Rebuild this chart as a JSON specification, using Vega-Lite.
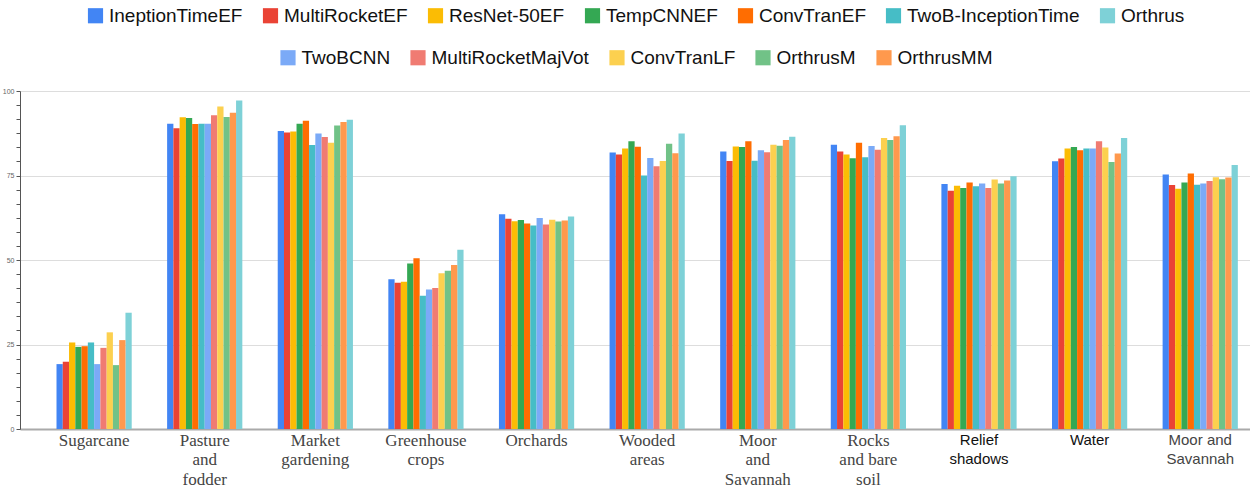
{
  "$schema": "https://vega.github.io/schema/vega-lite/v6.json",
  "width": 1230,
  "height": 338,
  "autosize": {"type": "none"},
  "padding": {"left": 20, "top": 91, "right": 0, "bottom": 59},
  "background": "white",
  "data": {
    "values": [
      {"cat": "Sugarcane", "IneptionTimeEF": 19.2, "MultiRocketEF": 19.9, "ResNet-50EF": 25.6, "TempCNNEF": 24.3, "ConvTranEF": 24.5, "TwoB-InceptionTime": 25.6, "TwoBCNN": 19.2, "MultiRocketMajVot": 24.0, "ConvTranLF": 28.6, "OrthrusM": 18.9, "OrthrusMM": 26.3, "Orthrus": 34.4},
      {"cat": "Pasture|and|fodder", "IneptionTimeEF": 90.3, "MultiRocketEF": 89.0, "ResNet-50EF": 92.2, "TempCNNEF": 92.0, "ConvTranEF": 90.2, "TwoB-InceptionTime": 90.3, "TwoBCNN": 90.3, "MultiRocketMajVot": 92.8, "ConvTranLF": 95.4, "OrthrusM": 92.3, "OrthrusMM": 93.6, "Orthrus": 97.2},
      {"cat": "Market|gardening", "IneptionTimeEF": 88.2, "MultiRocketEF": 87.7, "ResNet-50EF": 88.0, "TempCNNEF": 90.3, "ConvTranEF": 91.2, "TwoB-InceptionTime": 84.0, "TwoBCNN": 87.4, "MultiRocketMajVot": 86.4, "ConvTranLF": 84.7, "OrthrusM": 89.8, "OrthrusMM": 90.8, "Orthrus": 91.5},
      {"cat": "Greenhouse|crops", "IneptionTimeEF": 44.3, "MultiRocketEF": 43.3, "ResNet-50EF": 43.6, "TempCNNEF": 49.0, "ConvTranEF": 50.5, "TwoB-InceptionTime": 39.4, "TwoBCNN": 41.3, "MultiRocketMajVot": 41.7, "ConvTranLF": 46.1, "OrthrusM": 46.8, "OrthrusMM": 48.5, "Orthrus": 53.0},
      {"cat": "Orchards", "IneptionTimeEF": 63.5, "MultiRocketEF": 62.2, "ResNet-50EF": 61.5, "TempCNNEF": 61.8, "ConvTranEF": 60.8, "TwoB-InceptionTime": 60.2, "TwoBCNN": 62.4, "MultiRocketMajVot": 60.5, "ConvTranLF": 61.9, "OrthrusM": 61.4, "OrthrusMM": 61.7, "Orthrus": 62.9},
      {"cat": "Wooded|areas", "IneptionTimeEF": 81.8, "MultiRocketEF": 81.2, "ResNet-50EF": 83.0, "TempCNNEF": 85.1, "ConvTranEF": 83.5, "TwoB-InceptionTime": 75.0, "TwoBCNN": 80.2, "MultiRocketMajVot": 77.7, "ConvTranLF": 79.3, "OrthrusM": 84.4, "OrthrusMM": 81.6, "Orthrus": 87.4},
      {"cat": "Moor|and|Savannah", "IneptionTimeEF": 82.1, "MultiRocketEF": 79.3, "ResNet-50EF": 83.6, "TempCNNEF": 83.4, "ConvTranEF": 85.1, "TwoB-InceptionTime": 79.4, "TwoBCNN": 82.5, "MultiRocketMajVot": 81.9, "ConvTranLF": 84.1, "OrthrusM": 83.8, "OrthrusMM": 85.5, "Orthrus": 86.5},
      {"cat": "Rocks|and bare|soil", "IneptionTimeEF": 84.1, "MultiRocketEF": 82.1, "ResNet-50EF": 81.2, "TempCNNEF": 80.1, "ConvTranEF": 84.7, "TwoB-InceptionTime": 80.4, "TwoBCNN": 83.7, "MultiRocketMajVot": 82.6, "ConvTranLF": 86.1, "OrthrusM": 85.5, "OrthrusMM": 86.6, "Orthrus": 89.9},
      {"cat": "Relief|shadows", "IneptionTimeEF": 72.5, "MultiRocketEF": 70.5, "ResNet-50EF": 72.0, "TempCNNEF": 71.3, "ConvTranEF": 72.9, "TwoB-InceptionTime": 71.8, "TwoBCNN": 72.6, "MultiRocketMajVot": 71.3, "ConvTranLF": 73.8, "OrthrusM": 72.6, "OrthrusMM": 73.5, "Orthrus": 74.8},
      {"cat": "Water", "IneptionTimeEF": 79.2, "MultiRocketEF": 80.0, "ResNet-50EF": 83.0, "TempCNNEF": 83.4, "ConvTranEF": 82.5, "TwoB-InceptionTime": 83.0, "TwoBCNN": 83.0, "MultiRocketMajVot": 85.1, "ConvTranLF": 83.3, "OrthrusM": 79.0, "OrthrusMM": 81.5, "Orthrus": 86.1},
      {"cat": "Moor and|Savannah", "IneptionTimeEF": 75.3, "MultiRocketEF": 72.2, "ResNet-50EF": 71.1, "TempCNNEF": 72.9, "ConvTranEF": 75.6, "TwoB-InceptionTime": 72.3, "TwoBCNN": 72.6, "MultiRocketMajVot": 73.4, "ConvTranLF": 74.5, "OrthrusM": 73.9, "OrthrusMM": 74.4, "Orthrus": 78.1}
    ]
  },
  "transform": [
    {"fold": ["IneptionTimeEF", "MultiRocketEF", "ResNet-50EF", "TempCNNEF", "ConvTranEF", "TwoB-InceptionTime", "TwoBCNN", "MultiRocketMajVot", "ConvTranLF", "OrthrusM", "OrthrusMM", "Orthrus"], "as": ["model", "acc"]}
  ],
  "encoding": {
    "x": {
      "field": "cat", "type": "nominal", "sort": null,
      "scale": {"paddingInner": 0.32, "paddingOuter": 0.22, "align": 0.75},
      "axis": {
        "title": null, "labelAngle": 0, "ticks": false,
        "labelExpr": "split(datum.label, '|')",
        "labelFont": {"condition": {"test": "indexof(['Relief|shadows','Water','Moor and|Savannah'], datum.value) >= 0", "value": "Liberation Sans"}, "value": "Liberation Serif"},
        "labelFontSize": {"condition": {"test": "indexof(['Relief|shadows','Water','Moor and|Savannah'], datum.value) >= 0", "value": 15}, "value": 17},
        "labelColor": {"condition": {"test": "indexof(['Relief|shadows','Water'], datum.value) >= 0", "value": "#111111"}, "value": "#444444"},
        "labelLineHeight": 19.5, "labelPadding": 3, "labelBaseline": "top",
        "domainColor": "#aaaaaa", "domainWidth": 2
      }
    },
    "xOffset": {
      "field": "model", "type": "nominal",
      "scale": {"domain": ["IneptionTimeEF", "MultiRocketEF", "ResNet-50EF", "TempCNNEF", "ConvTranEF", "TwoB-InceptionTime", "TwoBCNN", "MultiRocketMajVot", "ConvTranLF", "OrthrusM", "OrthrusMM", "Orthrus"], "paddingInner": 0, "paddingOuter": 0}
    },
    "y": {
      "field": "acc", "type": "quantitative",
      "scale": {"domain": [0, 100], "nice": false},
      "axis": {
        "title": null,
        "values": [0, 4.1667, 8.3333, 12.5, 16.6667, 20.8333, 25, 29.1667, 33.3333, 37.5, 41.6667, 45.8333, 50, 54.1667, 58.3333, 62.5, 66.6667, 70.8333, 75, 79.1667, 83.3333, 87.5, 91.6667, 95.8333, 100],
        "labelExpr": "datum.value % 25 === 0 ? datum.label : ''",
        "labelFontSize": 7, "labelColor": "#666666", "labelPadding": 2,
        "gridColor": "#dddddd",
        "gridOpacity": {"condition": {"test": "datum.value % 25 === 0", "value": 1}, "value": 0},
        "tickSize": 4, "tickColor": "#555555", "domainColor": "#555555"
      }
    }
  },
  "layer": [
    {
      "transform": [{"filter": {"field": "model", "oneOf": ["IneptionTimeEF", "MultiRocketEF", "ResNet-50EF", "TempCNNEF", "ConvTranEF", "TwoB-InceptionTime", "Orthrus"]}}],
      "mark": {"type": "bar"},
      "encoding": {
        "color": {
          "field": "model", "type": "nominal",
          "scale": {"domain": ["IneptionTimeEF", "MultiRocketEF", "ResNet-50EF", "TempCNNEF", "ConvTranEF", "TwoB-InceptionTime", "Orthrus"], "range": ["#4285F4", "#EA4335", "#FBBC04", "#34A853", "#FF6D01", "#46BDC6", "#7ED1D7"]},
          "legend": {"orient": "top", "title": null, "direction": "horizontal"}
        }
      }
    },
    {
      "transform": [{"filter": {"field": "model", "oneOf": ["TwoBCNN", "MultiRocketMajVot", "ConvTranLF", "OrthrusM", "OrthrusMM"]}}],
      "mark": {"type": "bar"},
      "encoding": {
        "color": {
          "field": "model", "type": "nominal",
          "scale": {"domain": ["TwoBCNN", "MultiRocketMajVot", "ConvTranLF", "OrthrusM", "OrthrusMM"], "range": ["#7BAAF7", "#F07B72", "#FCD04F", "#71C287", "#FF994D"]},
          "legend": {"orient": "top", "title": null, "direction": "horizontal"}
        }
      }
    }
  ],
  "resolve": {"scale": {"color": "independent"}},
  "config": {
    "view": {"stroke": null},
    "legend": {
      "symbolType": "square", "symbolSize": 230, "symbolStrokeWidth": 0, "symbolOpacity": 1,
      "labelFont": "Liberation Sans", "labelFontSize": 19, "labelColor": "#111111", "labelLimit": 0,
      "columnPadding": 18, "offset": 23,
      "layout": {"top": {"anchor": "middle", "direction": "vertical", "center": true, "margin": 22}}
    }
  }
}
